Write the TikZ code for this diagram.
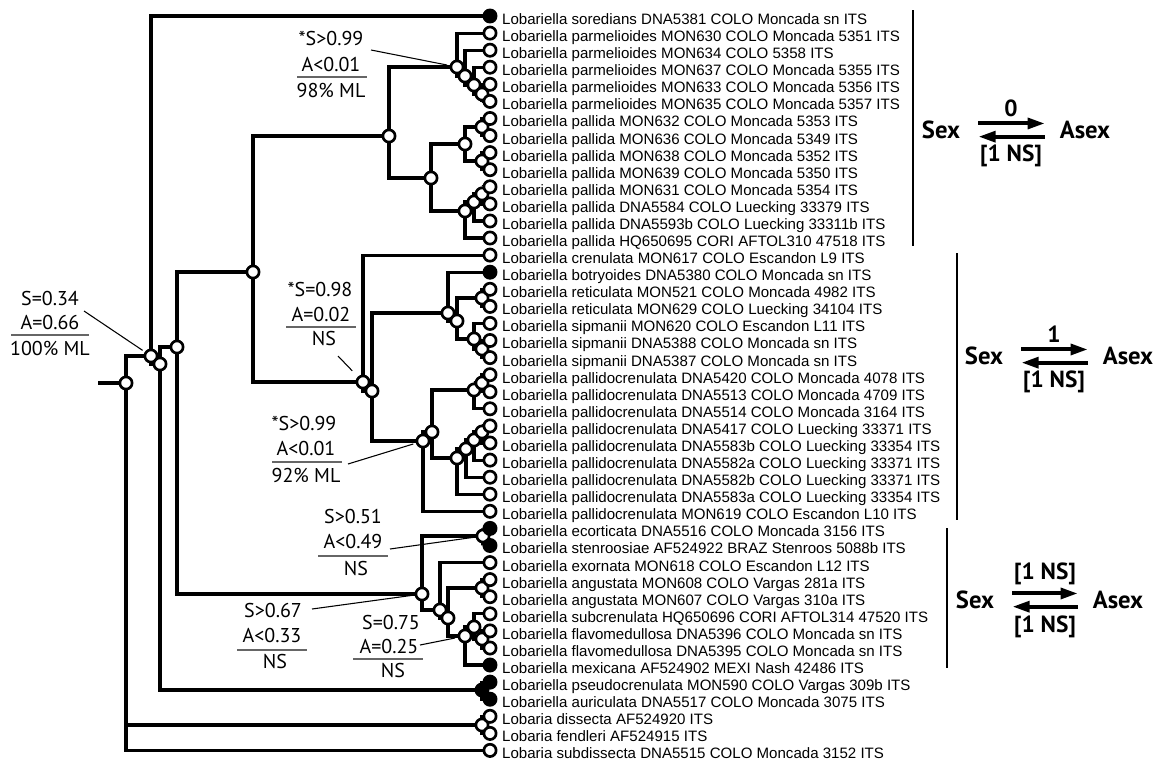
\documentclass[tikz,border=0pt]{standalone}
\usepackage{fontspec}
\newfontfamily\taxfont{Liberation Sans}
\newfontfamily\annfont{PT Sans}
\usetikzlibrary{arrows.meta}
\pgfdeclarelayer{branches}
\pgfsetlayers{branches,main}

\begin{document}
\begin{tikzpicture}[x=0.75pt, y=-0.75pt,
    taxon/.style = {font=\taxfont\fontsize{11.3}{13}\selectfont, anchor=base west, inner sep=0pt, xshift=3.3pt, yshift=-6.3pt},
    tipsex/.style = {draw, circle, fill=white, line width=2pt, minimum size=9.2pt, inner sep=0pt, label={[taxon]east:#1}},
    tipasex/.style = {tipsex=#1, fill=black},
    anc/.style = {draw, circle, fill=white, line width=2pt, minimum size=9.2pt, inner sep=0pt},
    ancpie/.style = {anc, path picture={\fill (path picture bounding box.center) -- ++(90:7pt) arc[start angle=90, delta angle=-3.6*#1, radius=7pt] -- cycle;}},
    branch/.style = {line width=2.4pt},
    supp/.style = {font=\annfont\fontsize{15}{18}\selectfont, anchor=base, inner sep=0pt},
    suprule/.style = {line width=0.9pt, black!60},
    leader/.style = {line width=0.8pt, shorten >=2pt},
    cladebar/.style = {line width=1.6pt},
    sexlab/.style = {font=\annfont\bfseries\fontsize{18.5}{20}\selectfont, inner sep=0pt},
    ratelab/.style = {font=\annfont\bfseries\fontsize{17.5}{20}\selectfont, inner sep=0pt},
    rate/.style = {line width=3pt, -{Triangle[length=13pt, width=8pt]}}]
    \useasboundingbox (0,0) rectangle (1164,761);

    % internal nodes
    \coordinate (base) at (98,383);
    \node[anc] (root) at (126,383) {};
    \node[ancpie=66] (n1) at (151,356) {};
    \node[ancpie=80] (n2) at (160,364) {};
    \node[ancpie=25] (n3) at (177,347) {};
    \node[ancpie=10] (n4) at (253,272) {};
    \node[anc] (n5) at (389,136) {};
    \node[anc] (n7) at (457,67) {};
    \node[anc] (n7b) at (465,76) {};
    \node[anc] (n7c) at (474,85) {};
    \node[anc] (n7d) at (482,94) {};
    \node[anc] (n8) at (431,178) {};
    \node[anc] (n9) at (465,144) {};
    \node[anc] (n9a) at (482,127) {};
    \node[anc] (n9b) at (482,161) {};
    \node[anc] (n10) at (465,211) {};
    \node[anc] (n10b) at (474,202) {};
    \node[anc] (n10c) at (482,194) {};
    \node[ancpie=2] (n6) at (363,382) {};
    \node[anc] (n11) at (372,391) {};
    \node[anc] (n12) at (448,313) {};
    \node[anc] (n12b) at (457,321) {};
    \node[anc] (n12c) at (482,298) {};
    \node[anc] (n12d) at (474,339) {};
    \node[anc] (n12e) at (482,349) {};
    \node[anc] (n13) at (423,441) {};
    \node[anc] (n13b) at (432,432) {};
    \node[anc] (n13u) at (474,390) {};
    \node[anc] (n13v) at (482,383) {};
    \node[anc] (n13c) at (457,458) {};
    \node[anc] (n13d) at (466,449) {};
    \node[anc] (n13e) at (474,440) {};
    \node[anc] (n13f) at (482,432) {};
    \node[ancpie=33] (nl) at (422,594) {};
    \node[ancpie=49] (nlA) at (483,536) {};
    \node[ancpie=30] (nlB) at (440,610) {};
    \node[ancpie=30] (nlB2) at (448,618) {};
    \node[anc] (nang) at (482,588) {};
    \node[ancpie=25] (nlC) at (465,636) {};
    \node[anc] (nlD) at (474,627) {};
    \node[anc] (nlE) at (482,639) {};
    \node[anc, fill=black] (npa) at (482,690) {};
    \node[anc] (ndf) at (482,725) {};

    % tips
    \node[tipasex={Lobariella soredians DNA5381 COLO Moncada sn ITS}] (t1) at (490,16.0) {};
    \node[tipsex={Lobariella parmelioides MON630 COLO Moncada 5351 ITS}] (t2) at (490,33.1) {};
    \node[tipsex={Lobariella parmelioides MON634 COLO 5358 ITS}] (t3) at (490,50.2) {};
    \node[tipsex={Lobariella parmelioides MON637 COLO Moncada 5355 ITS}] (t4) at (490,67.2) {};
    \node[tipsex={Lobariella parmelioides MON633 COLO Moncada 5356 ITS}] (t5) at (490,84.3) {};
    \node[tipsex={Lobariella parmelioides MON635 COLO Moncada 5357 ITS}] (t6) at (490,101.4) {};
    \node[tipsex={Lobariella pallida MON632 COLO Moncada 5353 ITS}] (t7) at (490,118.5) {};
    \node[tipsex={Lobariella pallida MON636 COLO Moncada 5349 ITS}] (t8) at (490,135.6) {};
    \node[tipsex={Lobariella pallida MON638 COLO Moncada 5352 ITS}] (t9) at (490,152.6) {};
    \node[tipsex={Lobariella pallida MON639 COLO Moncada 5350 ITS}] (t10) at (490,169.7) {};
    \node[tipsex={Lobariella pallida MON631 COLO Moncada 5354 ITS}] (t11) at (490,186.8) {};
    \node[tipsex={Lobariella pallida DNA5584 COLO Luecking 33379 ITS}] (t12) at (490,203.9) {};
    \node[tipsex={Lobariella pallida DNA5593b COLO Luecking 33311b ITS}] (t13) at (490,221.0) {};
    \node[tipsex={Lobariella pallida HQ650695 CORI AFTOL310 47518 ITS}] (t14) at (490,238.0) {};
    \node[tipsex={Lobariella crenulata MON617 COLO Escandon L9 ITS}] (t15) at (490,255.1) {};
    \node[tipasex={Lobariella botryoides DNA5380 COLO Moncada sn ITS}] (t16) at (490,272.2) {};
    \node[tipsex={Lobariella reticulata MON521 COLO Moncada 4982 ITS}] (t17) at (490,289.3) {};
    \node[tipsex={Lobariella reticulata MON629 COLO Luecking 34104 ITS}] (t18) at (490,306.4) {};
    \node[tipsex={Lobariella sipmanii MON620 COLO Escandon L11 ITS}] (t19) at (490,323.4) {};
    \node[tipsex={Lobariella sipmanii DNA5388 COLO Moncada sn ITS}] (t20) at (490,340.5) {};
    \node[tipsex={Lobariella sipmanii DNA5387 COLO Moncada sn ITS}] (t21) at (490,357.6) {};
    \node[tipsex={Lobariella pallidocrenulata DNA5420 COLO Moncada 4078 ITS}] (t22) at (490,374.7) {};
    \node[tipsex={Lobariella pallidocrenulata DNA5513 COLO Moncada 4709 ITS}] (t23) at (490,391.8) {};
    \node[tipsex={Lobariella pallidocrenulata DNA5514 COLO Moncada 3164 ITS}] (t24) at (490,408.8) {};
    \node[tipsex={Lobariella pallidocrenulata DNA5417 COLO Luecking 33371 ITS}] (t25) at (490,425.9) {};
    \node[tipsex={Lobariella pallidocrenulata DNA5583b COLO Luecking 33354 ITS}] (t26) at (490,443.0) {};
    \node[tipsex={Lobariella pallidocrenulata DNA5582a COLO Luecking 33371 ITS}] (t27) at (490,460.1) {};
    \node[tipsex={Lobariella pallidocrenulata DNA5582b COLO Luecking 33371 ITS}] (t28) at (490,477.2) {};
    \node[tipsex={Lobariella pallidocrenulata DNA5583a COLO Luecking 33354 ITS}] (t29) at (490,494.2) {};
    \node[tipsex={Lobariella pallidocrenulata MON619 COLO Escandon L10 ITS}] (t30) at (490,511.3) {};
    \node[tipasex={Lobariella ecorticata DNA5516 COLO Moncada 3156 ITS}] (t31) at (490,528.4) {};
    \node[tipasex={Lobariella stenroosiae AF524922 BRAZ Stenroos 5088b ITS}] (t32) at (490,545.5) {};
    \node[tipsex={Lobariella exornata MON618 COLO Escandon L12 ITS}] (t33) at (490,562.6) {};
    \node[tipsex={Lobariella angustata MON608 COLO Vargas 281a ITS}] (t34) at (490,579.6) {};
    \node[tipsex={Lobariella angustata MON607 COLO Vargas 310a ITS}] (t35) at (490,596.7) {};
    \node[tipsex={Lobariella subcrenulata HQ650696 CORI AFTOL314 47520 ITS}] (t36) at (490,613.8) {};
    \node[tipsex={Lobariella flavomedullosa DNA5396 COLO Moncada sn ITS}] (t37) at (490,630.9) {};
    \node[tipsex={Lobariella flavomedullosa DNA5395 COLO Moncada sn ITS}] (t38) at (490,648.0) {};
    \node[tipasex={Lobariella mexicana AF524902 MEXI Nash 42486 ITS}] (t39) at (490,665.0) {};
    \node[tipasex={Lobariella pseudocrenulata MON590 COLO Vargas 309b ITS}] (t40) at (490,682.1) {};
    \node[tipasex={Lobariella auriculata DNA5517 COLO Moncada 3075 ITS}] (t41) at (490,699.2) {};
    \node[tipsex={Lobaria dissecta AF524920 ITS}] (t42) at (490,716.3) {};
    \node[tipsex={Lobaria fendleri AF524915 ITS}] (t43) at (490,733.4) {};
    \node[tipsex={Lobaria subdissecta DNA5515 COLO Moncada 3152 ITS}] (t44) at (490,750.4) {};

    % branches
    \begin{pgfonlayer}{branches}
    \draw[branch] (base) -- (root);
    \draw[branch] (root) |- (n1);
    \draw[branch] (root) |- (ndf);
    \draw[branch] (root) |- (t44);
    \draw[branch] (n1) |- (t1);
    \draw[branch] (n1) |- (n2);
    \draw[branch] (n2) |- (n3);
    \draw[branch] (n2) |- (npa);
    \draw[branch] (n3) |- (n4);
    \draw[branch] (n3) |- (nl);
    \draw[branch] (n4) |- (n5);
    \draw[branch] (n4) |- (n6);
    \draw[branch] (n5) |- (n7);
    \draw[branch] (n5) |- (n8);
    \draw[branch] (n7) |- (t2);
    \draw[branch] (n7) |- (n7b);
    \draw[branch] (n7b) |- (t3);
    \draw[branch] (n7b) |- (n7c);
    \draw[branch] (n7c) |- (t4);
    \draw[branch] (n7c) |- (n7d);
    \draw[branch] (n7d) |- (t5);
    \draw[branch] (n7d) |- (t6);
    \draw[branch] (n8) |- (n9);
    \draw[branch] (n8) |- (n10);
    \draw[branch] (n9) |- (n9a);
    \draw[branch] (n9) |- (n9b);
    \draw[branch] (n9a) |- (t7);
    \draw[branch] (n9a) |- (t8);
    \draw[branch] (n9b) |- (t9);
    \draw[branch] (n9b) |- (t10);
    \draw[branch] (n10) |- (n10b);
    \draw[branch] (n10) |- (t14);
    \draw[branch] (n10b) |- (n10c);
    \draw[branch] (n10b) |- (t13);
    \draw[branch] (n10c) |- (t11);
    \draw[branch] (n10c) |- (t12);
    \draw[branch] (n6) |- (t15);
    \draw[branch] (n6) |- (n11);
    \draw[branch] (n11) |- (n12);
    \draw[branch] (n11) |- (n13);
    \draw[branch] (n12) |- (t16);
    \draw[branch] (n12) |- (n12b);
    \draw[branch] (n12b) |- (n12c);
    \draw[branch] (n12b) |- (n12d);
    \draw[branch] (n12c) |- (t17);
    \draw[branch] (n12c) |- (t18);
    \draw[branch] (n12d) |- (t19);
    \draw[branch] (n12d) |- (n12e);
    \draw[branch] (n12e) |- (t20);
    \draw[branch] (n12e) |- (t21);
    \draw[branch] (n13) |- (n13b);
    \draw[branch] (n13) |- (t30);
    \draw[branch] (n13b) |- (n13u);
    \draw[branch] (n13b) |- (n13c);
    \draw[branch] (n13u) |- (n13v);
    \draw[branch] (n13u) |- (t24);
    \draw[branch] (n13v) |- (t22);
    \draw[branch] (n13v) |- (t23);
    \draw[branch] (n13c) |- (n13d);
    \draw[branch] (n13c) |- (t29);
    \draw[branch] (n13d) |- (n13e);
    \draw[branch] (n13d) |- (t28);
    \draw[branch] (n13e) |- (n13f);
    \draw[branch] (n13e) |- (t27);
    \draw[branch] (n13f) |- (t25);
    \draw[branch] (n13f) |- (t26);
    \draw[branch] (nl) |- (nlA);
    \draw[branch] (nl) |- (nlB);
    \draw[branch] (nlA) |- (t31);
    \draw[branch] (nlA) |- (t32);
    \draw[branch] (nlB) |- (t33);
    \draw[branch] (nlB) |- (nlB2);
    \draw[branch] (nlB2) |- (nang);
    \draw[branch] (nlB2) |- (nlC);
    \draw[branch] (nang) |- (t34);
    \draw[branch] (nang) |- (t35);
    \draw[branch] (nlC) |- (nlD);
    \draw[branch] (nlC) |- (t39);
    \draw[branch] (nlD) |- (t36);
    \draw[branch] (nlD) |- (nlE);
    \draw[branch] (nlE) |- (t37);
    \draw[branch] (nlE) |- (t38);
    \draw[branch] (npa) |- (t40);
    \draw[branch] (npa) |- (t41);
    \draw[branch] (ndf) |- (t42);
    \draw[branch] (ndf) |- (t43);
    \end{pgfonlayer}

    % support values
    \node[supp] (s1) at (50,305) {S=0.34};
    \node[supp] (a1) at (50,329) {A=0.66};
    \node[supp] (m1) at (50,355) {100\% ML};
    \draw[suprule] (11,335) -- (89,335);
    \coordinate (k1) at (84,311);
    \draw[leader] (k1) -- (n1);

    \node[supp] (s7) at (331,45) {*S>0.99};
    \node[supp] (a7) at (331,71) {A<0.01};
    \node[supp] (m7) at (331,97) {98\% ML};
    \draw[suprule] (297,77) -- (367,77);
    \coordinate (k7) at (371,50);
    \draw[leader] (k7) -- (n7);

    \node[supp] (s6) at (320,296) {*S=0.98};
    \node[supp] (a6) at (321,321) {A=0.02};
    \node[supp] (m6) at (324,345) {NS};
    \draw[suprule] (286,327) -- (356,327);
    \coordinate (k6) at (338,356);
    \draw[leader, shorten >=6pt] (k6) -- (n6);

    \node[supp] (s13) at (304,430) {*S>0.99};
    \node[supp] (a13) at (306,455) {A<0.01};
    \node[supp] (m13) at (306,482) {92\% ML};
    \draw[suprule] (272,462) -- (342,462);
    \coordinate (k13) at (348,464);
    \draw[leader] (k13) -- (n13);

    \node[supp] (slA) at (353,523) {S>0.51};
    \node[supp] (alA) at (353,548) {A<0.49};
    \node[supp] (mlA) at (356,575) {NS};
    \draw[suprule] (318,556) -- (388,556);
    \coordinate (klA) at (390,549);
    \draw[leader] (klA) -- (nlA);

    \node[supp] (sl) at (273,617) {S>0.67};
    \node[supp] (al) at (272,642) {A<0.33};
    \node[supp] (ml) at (275,668) {NS};
    \draw[suprule] (237,650) -- (307,650);
    \coordinate (kl) at (312,609);
    \draw[leader] (kl) -- (nl);

    \node[supp] (slC) at (391,629) {S=0.75};
    \node[supp] (alC) at (389,653) {A=0.25};
    \node[supp] (mlC) at (393,677) {NS};
    \draw[suprule] (353,659) -- (423,659);
    \coordinate (klC) at (420,645);
    \draw[leader] (klC) -- (nlC);

    % clades and transition rates
    \draw[cladebar] (913,10) -- (913,246);
    \draw[cladebar] (957,253) -- (957,520);
    \draw[cladebar] (947,528) -- (947,668);

    \node[sexlab] (sex1) at (941,130) {Sex};
    \node[sexlab] (asex1) at (1085,130) {Asex};
    \draw[rate, shorten <=13.5pt, shorten >=11pt] ([yshift=4.9pt]sex1.east) -- ([yshift=4.9pt]asex1.west);
    \draw[rate, shorten <=11pt, shorten >=13.5pt] ([yshift=-5pt]asex1.west) -- ([yshift=-5pt]sex1.east);
    \node[ratelab] (f1) at (1011,108) {0};
    \node[ratelab] (g1) at (1011,156) {[1 NS]};

    \node[sexlab] (sex2) at (984,356) {Sex};
    \node[sexlab] (asex2) at (1128,356) {Asex};
    \draw[rate, shorten <=13.5pt, shorten >=11pt] ([yshift=4.9pt]sex2.east) -- ([yshift=4.9pt]asex2.west);
    \draw[rate, shorten <=11pt, shorten >=13.5pt] ([yshift=-5pt]asex2.west) -- ([yshift=-5pt]sex2.east);
    \node[ratelab] (f2) at (1054,334) {1};
    \node[ratelab] (g2) at (1054,382) {[1 NS]};

    \node[sexlab] (sex3) at (975,600) {Sex};
    \node[sexlab] (asex3) at (1118,600) {Asex};
    \draw[rate, shorten <=13.5pt, shorten >=11pt] ([yshift=4.9pt]sex3.east) -- ([yshift=4.9pt]asex3.west);
    \draw[rate, shorten <=11pt, shorten >=13.5pt] ([yshift=-5pt]asex3.west) -- ([yshift=-5pt]sex3.east);
    \node[ratelab] (f3) at (1045,574) {[1 NS]};
    \node[ratelab] (g3) at (1045,627) {[1 NS]};
\end{tikzpicture}
\end{document}
